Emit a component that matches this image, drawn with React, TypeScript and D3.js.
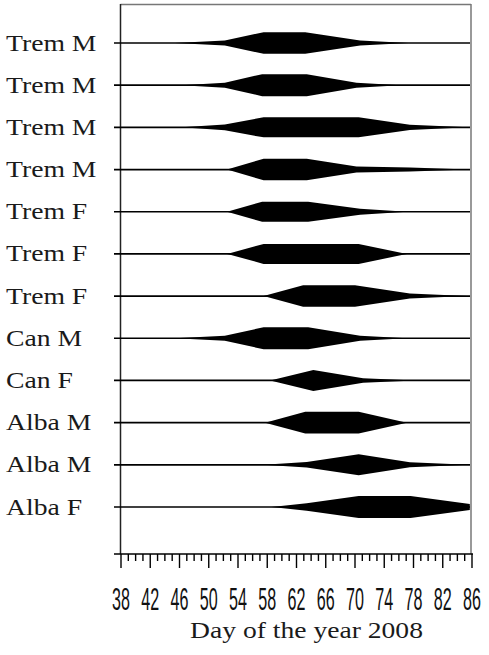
import React from "react";
import * as d3 from "d3";

const rowLabels = [
  "Trem M", "Trem M", "Trem M", "Trem M",
  "Trem F", "Trem F", "Trem F",
  "Can M", "Can F",
  "Alba M", "Alba M", "Alba F",
];

// Day of year at each point of the profile, per row
const rowDays = [
  [45.4, 52.2, 57.5, 63.2, 70.7, 77.3],
  [46.3, 52.2, 57.3, 63.4, 70.2, 76.2],
  [46.3, 52.2, 57.5, 70.5, 77.5, 85.5],
  [52.5, 57.5, 63.4, 70.2, 77.5, 85.5],
  [52.5, 57.3, 63.6, 70.7, 77.1],
  [52.5, 57.5, 70.5, 77.1],
  [57.5, 62.9, 70.0, 77.5, 85.3],
  [45.4, 52.2, 57.5, 63.6, 70.7, 77.1],
  [58.4, 64.3, 71.1, 78.2],
  [57.7, 63.2, 70.5, 77.1],
  [57.5, 63.4, 70.5, 77.5, 85.5],
  [58.6, 63.4, 70.5, 77.6, 85.7],
];

// Relative abundance (% of maximum) at each of those days
const rowValues = [
  [0, 23, 98, 98, 23, 0],
  [0, 23, 100, 100, 23, 0],
  [0, 27, 91, 91, 23, 0],
  [0, 98, 98, 27, 18, 0],
  [0, 91, 91, 27, 0],
  [0, 91, 91, 0],
  [0, 98, 98, 23, 0],
  [0, 23, 100, 100, 23, 0],
  [0, 95, 20, 0],
  [0, 98, 98, 0],
  [0, 25, 95, 23, 0],
  [0, 34, 100, 100, 27],
];

const tickLabels = [38, 42, 46, 50, 54, 58, 62, 66, 70, 74, 78, 82, 86];
const xTitle = "Day of the year 2008";

export default function App() {
  const W = 489;
  const H = 655;
  const x = d3.scaleLinear().domain([38, 86]).range([121, 472]);
  const y = d3
    .scalePoint<number>()
    .domain(d3.range(rowLabels.length))
    .range([43, 507]);
  const half = d3.scaleLinear().domain([0, 100]).range([0, 11]);
  const axisY = 554;
  const minorTicks = x.ticks(48);

  const serif = "'Liberation Serif', 'Times New Roman', serif";

  return (
    <svg
      width={W}
      height={H}
      style={{ position: "absolute", left: 0, top: 0, background: "#fff" }}
    >
      {/* frame */}
      <line x1={120.5} x2={471} y1={4.5} y2={4.5} stroke="#777" strokeWidth={1.5} />
      <line x1={471} x2={471} y1={4} y2={axisY} stroke="#777" strokeWidth={1.5} />
      <line x1={120.5} x2={120.5} y1={4} y2={axisY} stroke="#222" strokeWidth={1.5} />

      {rowLabels.map((lab, i) => {
        const cy = y(i) as number;
        const pts = rowDays[i].map((d, k) => [d, rowValues[i][k]] as [number, number]);
        const area = d3
          .area<[number, number]>()
          .x((p) => x(p[0]))
          .y0((p) => cy - half(p[1]))
          .y1((p) => cy + half(p[1]));
        return (
          <g key={i}>
            <line x1={114} x2={470} y1={cy} y2={cy} stroke="#000" strokeWidth={1.7} />
            <path d={area(pts) || ""} fill="#000" />
            <text
              transform={`translate(6,${cy + 7.5}) scale(1.23,1)`}
              fontFamily={serif}
              fontSize={22.5}
              fill="#1a1a1a"
            >
              {lab}
            </text>
          </g>
        );
      })}

      {/* x axis */}
      <line x1={114} x2={473} y1={axisY} y2={axisY} stroke="#000" strokeWidth={1.6} />
      {minorTicks.map((t) => {
        const major = tickLabels.includes(t);
        return (
          <line
            key={t}
            x1={x(t)}
            x2={x(t)}
            y1={axisY}
            y2={axisY + (major ? 14 : 7)}
            stroke="#000"
            strokeWidth={1.4}
          />
        );
      })}
      {tickLabels.map((t) => (
        <text
          key={t}
          transform={`translate(${x(t)},610) scale(0.52,1)`}
          textAnchor="middle"
          fontFamily="'Liberation Sans', Arial, sans-serif"
          fontSize={31}
          fill="#111"
        >
          {t}
        </text>
      ))}
      <text
        transform={`translate(306.5,638) scale(1.2,1)`}
        textAnchor="middle"
        fontFamily={serif}
        fontSize={23}
        fill="#1a1a1a"
      >
        {xTitle}
      </text>
    </svg>
  );
}
